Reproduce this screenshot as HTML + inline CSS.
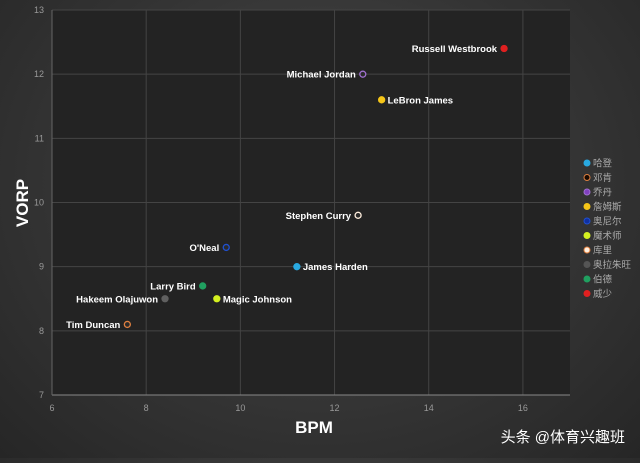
<!DOCTYPE html>
<html><head><meta charset="utf-8"><style>
html,body{margin:0;padding:0}
body{width:640px;height:458px;overflow:hidden;background:radial-gradient(ellipse at 50% 40%,#4a4a4a 0%,#333 60%,#262626 100%);font-family:"Liberation Sans","Noto Sans CJK SC",sans-serif}
</style></head><body>
<svg id="chart" width="640" height="458" xmlns="http://www.w3.org/2000/svg"></svg>
<script>
const players=["Russell Westbrook","Michael Jordan","LeBron James","Stephen Curry","O'Neal","James Harden","Larry Bird","Hakeem Olajuwon","Magic Johnson","Tim Duncan"];
const bpm=[15.6,12.6,13.0,12.5,9.7,11.2,9.2,8.4,9.5,7.6];
const vorp=[12.4,12.0,11.6,9.8,9.3,9.0,8.7,8.5,8.5,8.1];
const labelSide=["left","left","right","left","left","right","left","left","right","left"];
const fills=["#e02020","#2a2a2a","#f5c518","#2a2a2a","#2a2a2a","#29a8e0","#20a060","#606060","#d4f020","#2a2a2a"];
const strokes=["#e02020","#a070d0","#f5c518","#ffeedd","#2050d0","#29a8e0","#20a060","#606060","#d4f020","#e08040"];
const legendNames=["哈登","邓肯","乔丹","詹姆斯","奥尼尔","魔术师","库里","奥拉朱旺","伯德","威少"];
const legendFill=["#29a8e0","#1a0a00","#8040c0","#f5c518","#1030a0","#d4f020","#fff0e0","#555","#20a060","#e02020"];
const legendStroke=["#29a8e0","#e08040","#a070d0","#f5c518","#2050d0","#d4f020","#e08040","#555","#20a060","#e02020"];
const xTicks=[6,8,10,12,14,16];
const yTicks=[7,8,9,10,11,12,13];
const X0=52,X1=570,Y0=395,Y1=10,xmin=6,xmax=17,ymin=7,ymax=13;
const sx=v=>X0+(v-xmin)/(xmax-xmin)*(X1-X0);
const sy=v=>Y0-(v-ymin)/(ymax-ymin)*(Y0-Y1);
const svg=document.getElementById('chart');
function mk(t,a,txt){const e=document.createElementNS('http://www.w3.org/2000/svg',t);for(const k in a)e.setAttribute(k,a[k]);if(txt!=null)e.textContent=txt;svg.appendChild(e);return e;}
let e=mk('rect',{x:X0,y:Y1,width:X1-X0,height:Y0-Y1,fill:'#232323'});

xTicks.forEach(t=>{let l=mk('line',{x1:sx(t),x2:sx(t),y1:Y1,y2:Y0,stroke:'#444','stroke-width':1});
let tx=mk('text',{x:sx(t),y:Y0+16,fill:'#999','font-size':9,'text-anchor':'middle'},t);});
yTicks.forEach(t=>{let l=mk('line',{x1:X0,x2:X1,y1:sy(t),y2:sy(t),stroke:'#444','stroke-width':1});
let tx=mk('text',{x:X0-8,y:sy(t)+3,fill:'#999','font-size':9,'text-anchor':'end'},t);});
e=mk('line',{x1:X0,x2:X1,y1:Y0,y2:Y0,stroke:'#888','stroke-width':1});
e=mk('line',{x1:X0,x2:X0,y1:Y1,y2:Y0,stroke:'#666','stroke-width':1});
players.forEach((p,i)=>{const cx=sx(bpm[i]),cy=sy(vorp[i]);
let c=mk('circle',{cx:cx,cy:cy,r:3,fill:fills[i],stroke:strokes[i],'stroke-width':1.3});
const left=labelSide[i]==='left';
let t=mk('text',{x:left?cx-7:cx+6,y:cy+3.5,fill:'#fff','font-size':9.5,'font-weight':'bold','text-anchor':left?'end':'start'},p);});
legendNames.forEach((n,i)=>{const y=163+i*14.5;
let c=mk('circle',{cx:587,cy:y,r:3,fill:legendFill[i],stroke:legendStroke[i],'stroke-width':1});
let t=mk('text',{x:593,y:y+3.5,fill:'#aaa','font-size':9.5},n);});
e=mk('text',{x:314,y:433,fill:'#fff','font-size':17,'font-weight':'bold','text-anchor':'middle'},'BPM');
e=mk('text',{x:0,y:0,fill:'#fff','font-size':17,'font-weight':'bold','text-anchor':'middle',transform:'translate(28,203) rotate(-90)'},'VORP');
e=mk('text',{x:625,y:442,fill:'#fff','font-size':15,'text-anchor':'end'},'头条 @体育兴趣班');
</script>
</body></html>
